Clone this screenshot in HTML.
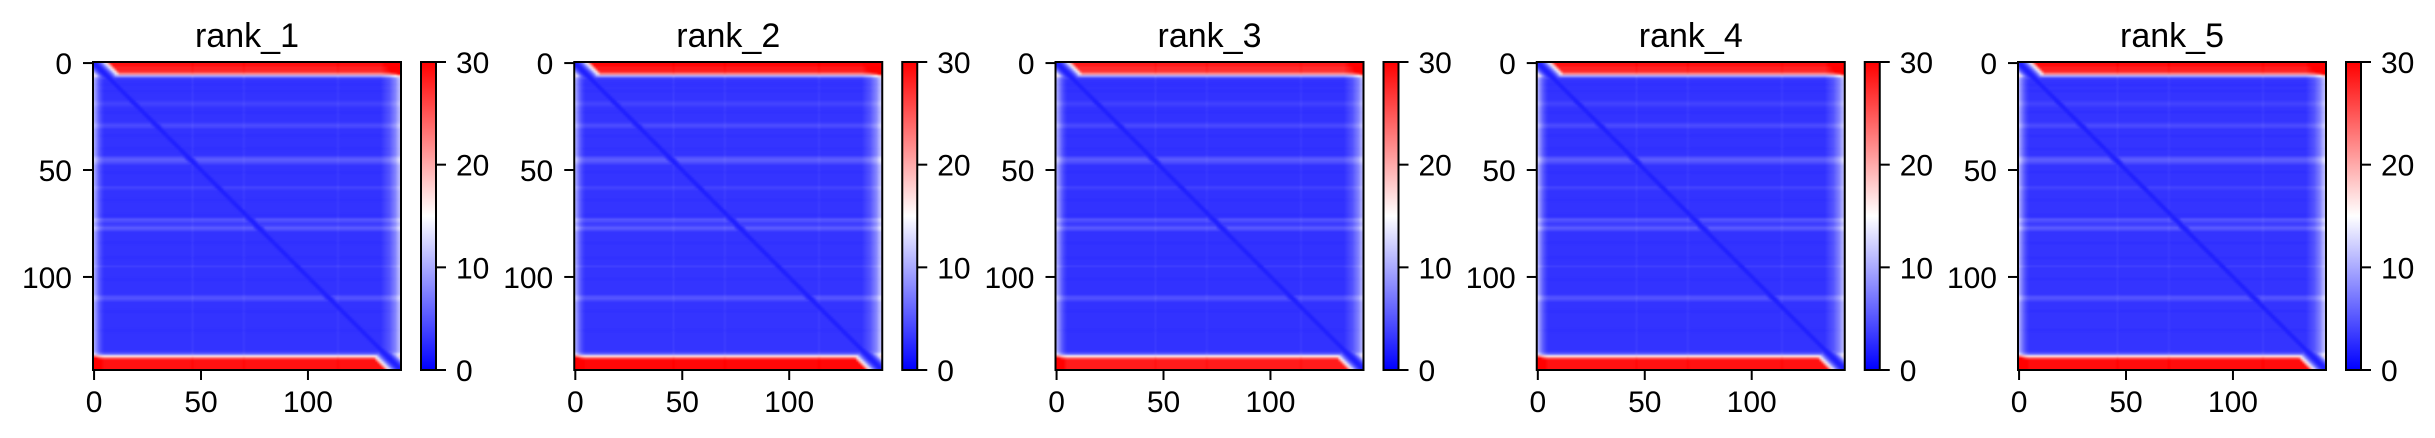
<!DOCTYPE html>
<html><head><meta charset="utf-8">
<style>
html,body{margin:0;padding:0;background:#fff;}
#wrap{position:relative;width:2435px;height:438px;overflow:hidden;}
canvas{position:absolute;}
svg{position:absolute;left:0;top:0;}
text{font-family:"Liberation Sans","DejaVu Sans",sans-serif;fill:#000;}
</style></head>
<body>
<div id="wrap">
<svg id="svg" width="2435" height="438"></svg>
</div>
<script>
// ---- data ----
const rankNames = ["rank_1","rank_2","rank_3","rank_4","rank_5"];
const rankScale = [1.0, 1.02, 0.98, 1.0, 1.01];
const axisTicks = [0, 50, 100];
const cbarTicks = [0, 10, 20, 30];
const rowErr = [29,29,28,28,27,22,10,4,
 3,3,2.8,3,3,2.8,3,3,3,3,
 3.5,4,3.5,
 3,3,2.8,3,3,3,3,3.5,
 4.5,4,
 3,3,3,2.8,3,3,3,3,3,2.8,3,3,3,
 4.5,5.5,5,4,
 3,3,3,2.8,3,3,3,3,3,3,
 4,3.5,
 3,3,3,3,2.8,3,3,3,3,3,3,2.8,3,
 5,4.5,
 3.5,4,
 5.5,4.5,
 3,3,3,3,3,2.8,3,3,3,3,3,3,2.8,3,3,3,
 3.8,
 3,3,3,3,3,2.8,3,3,3,3,3,3,3,
 4.5,5,4,
 3,3,3,3,2.8,3,3,3,3,3,3,3,3,2.8,3,3,3,3,3,3,3,3,3,3.5,
 6,16,25,29,29,29,29,29];
const colErr = [7,5,3,1.5,0.5,0,0,0,0,0,0,0,0,0,0,0,0,0,0,0,
 0,0,0,0,0,0,0,0,0,0,0,0,0,0,0,0,0,0,0,0,
 0,0,0,0,0,0,0.5,0,0,0,0,0,0,0,0,0,0,0,0,0,
 0,0,0,0,0,0,0,0,0,0,0.5,0,0,0,0,0,0,0,0,0,
 0,0,0,0,0,0,0,0,0,0,0,0,0,0,0,0,0,0,0,0,
 0,0,0,0,0,0,0,0,0,0,0,0,0,0,0.5,0,0,0,0,0,
 0,0,0,0,0,0,0,0,0,0,0,0,0,0,0,0.5,1,1.5,2,3,
 4,5,7,8];
const vmin = 0, vmax = 30;
const N = rowErr.length;

// ---- layout ----
const AX0 = 93, STEP = 481.25, AY = 62, AS = 308;
function xScale(k, j){ return AX0 + k*STEP + (j+0.5)*AS/N; }
function yScale(i){ return AY + (i+0.5)*AS/N; }
function cScale(v){ return AY + AS - (v-vmin)/(vmax-vmin)*AS; }
function bwr(v){
  let t = Math.max(0, Math.min(1, (v-vmin)/(vmax-vmin)));
  if (t < 0.5) { const c = Math.round(2*t*255); return [c,c,255]; }
  const c = Math.round((2-2*t)*255); return [255,c,c];
}
function pae(k,i,j){
  let v = (rowErr[i] + colErr[j]) * rankScale[k];
  const dd = Math.abs(i-j);
  const d = 1.8 + dd*dd*0.45;
  return Math.min(v, d, 30);
}

const svg = document.getElementById('svg');
const wrap = document.getElementById('wrap');
const NS = "http://www.w3.org/2000/svg";
function el(tag, attrs, parent){
  const e = document.createElementNS(NS, tag);
  for (const a in attrs) e.setAttribute(a, attrs[a]);
  (parent||svg).appendChild(e); return e;
}
const defs = el('defs',{});
const grad = el('linearGradient',{id:'bwrg',x1:0,y1:1,x2:0,y2:0},defs);
for (let s=0;s<=10;s++){
  const c = bwr(vmin + s/10*(vmax-vmin));
  el('stop',{offset:(s*10)+'%','stop-color':`rgb(${c[0]},${c[1]},${c[2]})`},grad);
}

rankNames.forEach((name,k)=>{
  const L = AX0 + k*STEP;
  const off = document.createElement('canvas');
  off.width = N; off.height = N;
  const octx = off.getContext('2d');
  const img = octx.createImageData(N,N);
  for (let i=0;i<N;i++) for (let j=0;j<N;j++){
    const c = bwr(pae(k,i,j)); const p=(i*N+j)*4;
    img.data[p]=c[0]; img.data[p+1]=c[1]; img.data[p+2]=c[2]; img.data[p+3]=255;
  }
  octx.putImageData(img,0,0);
  const cv = document.createElement('canvas');
  
  
  cv.width = AS; cv.height = AS;
  cv.style.left = L+'px'; cv.style.top = AY+'px';
  const ctx = cv.getContext('2d');
  ctx.imageSmoothingEnabled = true;
  ctx.drawImage(off, xScale(k,-0.5)-L, yScale(-0.5)-AY, AS, AS);
  wrap.insertBefore(cv, svg);

  const g = el('g',{});
  
  
  const t = el('text',{x:L+AS/2,y:47,'font-size':34,'text-anchor':'middle'},g);
  
  
  t.textContent = name;
  const fr = el('rect',{x:L,y:AY,width:AS,height:AS,fill:'none',stroke:'#000','stroke-width':2},g);
  
  
  axisTicks.forEach(tv=>{
    const x = xScale(k,tv), y = yScale(tv);
    el('line',{x1:x,y1:AY+AS,x2:x,y2:AY+AS+10,stroke:'#000','stroke-width':2},g);
    const xl = el('text',{x:x,y:AY+AS+42,'font-size':30,'text-anchor':'middle'},g);
    
    
    xl.textContent = tv;
    el('line',{x1:L-10,y1:y,x2:L,y2:y,stroke:'#000','stroke-width':2},g);
    const yl = el('text',{x:L-21,y:y+11,'font-size':30,'text-anchor':'end'},g);
    
    
    yl.textContent = tv;
  });
  const CX = L + 328, CW = 15;
  const cb = el('rect',{x:CX,y:AY,width:CW,height:AS,fill:'url(#bwrg)',stroke:'#000','stroke-width':2},g);
  
  
  cbarTicks.forEach(tv=>{
    const y = cScale(tv);
    el('line',{x1:CX+CW,y1:y,x2:CX+CW+10,y2:y,stroke:'#000','stroke-width':2},g);
    const cl = el('text',{x:CX+CW+20,y:y+11,'font-size':30},g);
    
    
    cl.textContent = tv;
  });
});
</script>
</body></html>
